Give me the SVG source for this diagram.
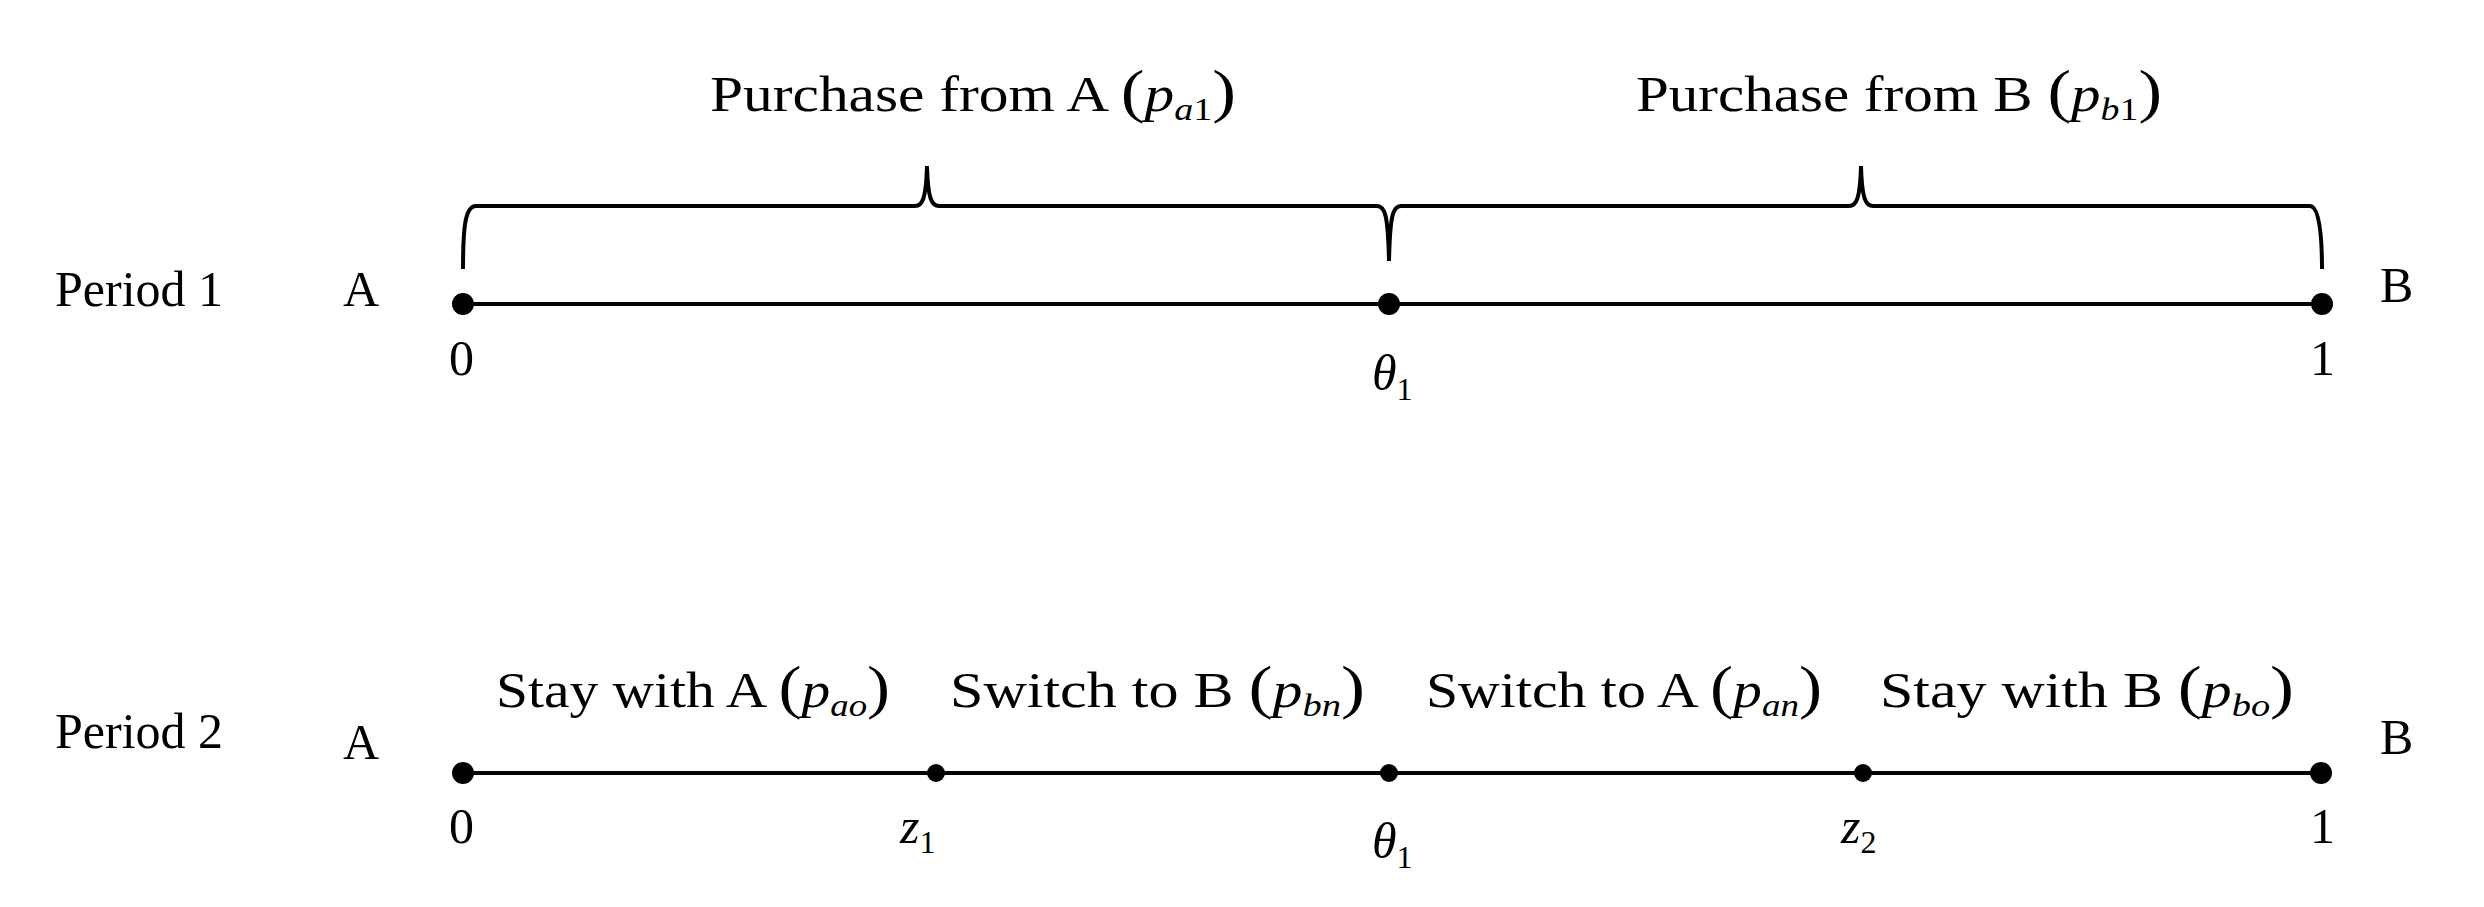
<svg xmlns="http://www.w3.org/2000/svg" width="2484" height="907" viewBox="0 0 2484 907">
<style>
text{font-family:"Liberation Serif","Times New Roman",serif;font-size:50px;fill:#000}
.i{font-style:italic}
.s{font-size:32px;font-style:italic}
.n{font-size:32px}
.p{font-size:60px}
.ln{stroke:#000;stroke-width:4;fill:none}
</style>
<rect width="2484" height="907" fill="#fff"/>
<g id="connectors">
<line class="ln" x1="463" y1="304" x2="2322" y2="304"/>
<line class="ln" x1="463" y1="773" x2="2321" y2="773"/>
<path id="brace" class="ln" stroke-width="3" d="M463,269 C463,228 465,206 476,206 L915,206 C922,206 926,200 927,166 C928,200 932,206 939,206 L1377,206 C1385,206 1388,215 1389,261 C1390,215 1393,206 1401,206 L1849,206 C1856,206 1860,200 1861,166 C1862,200 1866,206 1873,206 L2310,206 C2318,206 2322,228 2322,269"/>
</g>
<g id="period1">
<text x="55" y="306">Period 1</text>
<text x="343" y="306">A</text>
<text x="2380" y="302">B</text>
<circle cx="463" cy="304" r="11"/>
<circle cx="1389" cy="304" r="11"/>
<circle cx="2322" cy="304" r="11"/>
<text x="449" y="375">0</text>
<text x="1372" y="390" class="i">θ<tspan class="n" font-style="normal" dy="10">1</tspan></text>
<text x="2310" y="375">1</text>
<text x="710" y="111" textLength="526" lengthAdjust="spacingAndGlyphs">Purchase from A  <tspan class="p">(</tspan><tspan class="i">p</tspan><tspan class="s" dy="9">a</tspan><tspan class="n">1</tspan><tspan class="p" dy="-9">)</tspan></text>
<text x="1636" y="111" textLength="526" lengthAdjust="spacingAndGlyphs">Purchase from B <tspan class="p">(</tspan><tspan class="i">p</tspan><tspan class="s" dy="9">b</tspan><tspan class="n">1</tspan><tspan class="p" dy="-9">)</tspan></text>
</g>
<g id="period2">
<text x="55" y="748">Period 2</text>
<text x="343" y="759">A</text>
<text x="2380" y="754">B</text>
<circle cx="463" cy="773" r="11"/>
<circle cx="936" cy="773" r="9"/>
<circle cx="1389" cy="773" r="9"/>
<circle cx="1863" cy="773" r="9"/>
<circle cx="2321" cy="773" r="11"/>
<text x="449" y="843">0</text>
<text x="900" y="843" class="i">z<tspan class="n" font-style="normal" dy="10">1</tspan></text>
<text x="1372" y="858" class="i">θ<tspan class="n" font-style="normal" dy="10">1</tspan></text>
<text x="1841" y="843" class="i">z<tspan class="n" font-style="normal" dy="10">2</tspan></text>
<text x="2310" y="843">1</text>
<text x="496" y="707" textLength="394" lengthAdjust="spacingAndGlyphs">Stay with A <tspan class="p">(</tspan><tspan class="i">p</tspan><tspan class="s" dy="9">ao</tspan><tspan class="p" dy="-9">)</tspan></text>
<text x="950" y="707" textLength="415" lengthAdjust="spacingAndGlyphs">Switch to B <tspan class="p">(</tspan><tspan class="i">p</tspan><tspan class="s" dy="9">bn</tspan><tspan class="p" dy="-9">)</tspan></text>
<text x="1426" y="707" textLength="396" lengthAdjust="spacingAndGlyphs">Switch to A <tspan class="p">(</tspan><tspan class="i">p</tspan><tspan class="s" dy="9">an</tspan><tspan class="p" dy="-9">)</tspan></text>
<text x="1880" y="707" textLength="414" lengthAdjust="spacingAndGlyphs">Stay with B <tspan class="p">(</tspan><tspan class="i">p</tspan><tspan class="s" dy="9">bo</tspan><tspan class="p" dy="-9">)</tspan></text>
</g>
</svg>
